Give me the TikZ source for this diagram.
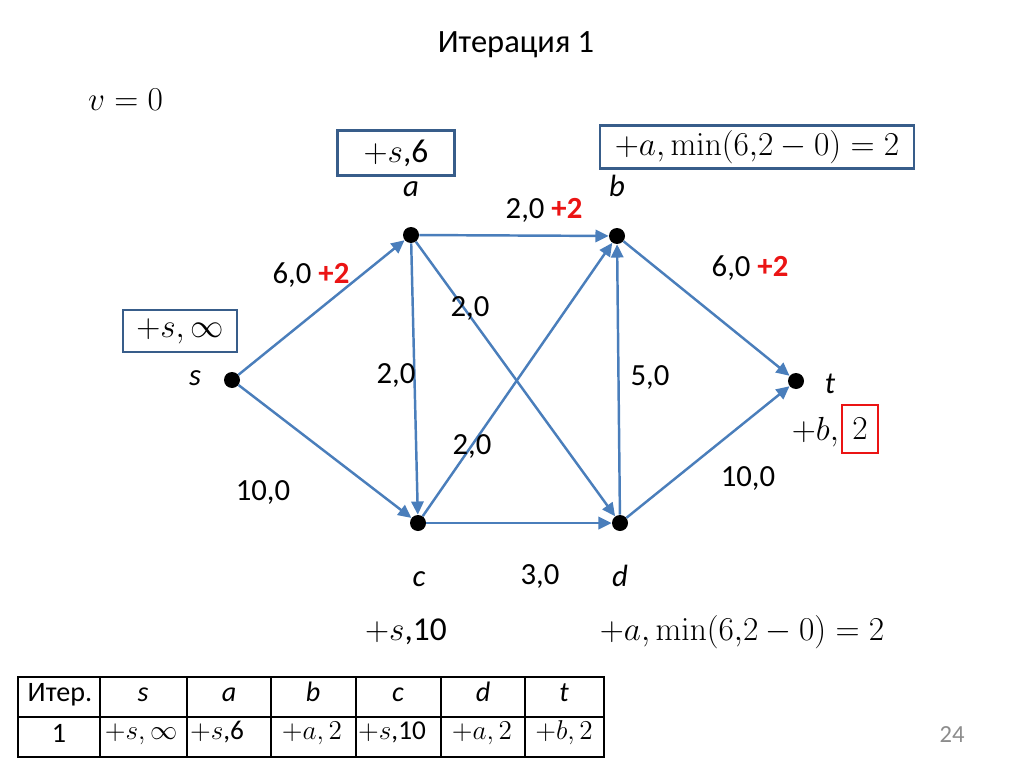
\RequirePackage{fix-cm}
\documentclass[tikz,border=0pt]{standalone}
\usepackage[no-math]{fontspec}
\setmainfont{Carlito}
\usetikzlibrary{arrows.meta}
\definecolor{edgeblue}{RGB}{74,126,187}
\definecolor{boxblue}{RGB}{56,93,138}
\definecolor{myred}{RGB}{235,20,20}
\definecolor{pgnum}{RGB}{140,140,140}
\begin{document}
\begin{tikzpicture}[x=0.02cm,y=-0.02cm,
  vert/.style={circle,fill=black,inner sep=0pt,minimum size=0.32cm},
  edge/.style={draw=edgeblue,line width=1.4pt,-{Triangle[length=7.5pt,width=7pt]}},
  lbl/.style={font=\fontsize{17.5}{20}\selectfont,inner sep=1pt,text height=0.7em,text depth=0.2em,yshift=-2.2pt},
  nm/.style={font=\fontsize{17.5}{20}\selectfont\itshape,inner sep=1pt,text height=0.7em,text depth=0.2em,yshift=-2.2pt},
  mth/.style={font=\fontsize{19}{22}\selectfont,inner sep=1pt},
  mbox/.style={draw=boxblue,line width=1.3pt,font=\fontsize{19}{22}\selectfont,inner sep=0pt},
  tab/.style={font=\fontsize{16}{19}\selectfont,inner sep=1pt,text height=0.7em,text depth=0.2em},
  tabm/.style={font=\fontsize{15.5}{18}\selectfont,inner sep=1pt,text height=0.7em,text depth=0.25em},
  tabit/.style={font=\fontsize{16}{19}\selectfont\itshape,inner sep=1pt,text height=0.7em,text depth=0.2em},
  tabline/.style={line width=0.8pt}]
\useasboundingbox (0,0) rectangle (1024,767);

% title
\node[font=\fontsize{18.5}{22}\selectfont] (title) at (516,45) {Итерация 1};
\node[mth,anchor=west] (v) at (86,100) {$v=0$};

% vertices
\node[vert] (s) at (232,380) {};
\node[vert] (a) at (411,235) {};
\node[vert] (b) at (617,236) {};
\node[vert] (c) at (418,523) {};
\node[vert] (d) at (620,523) {};
\node[vert] (t) at (796,381) {};

% edges
\draw[edge] (s) -- (a);
\draw[edge] (s) -- (c);
\draw[edge] (a) -- (b);
\draw[edge] (a) -- (c);
\draw[edge] (a) -- (d);
\draw[edge] (c) -- (b);
\draw[edge] (c) -- (d);
\draw[edge] (d) -- (b);
\draw[edge] (b) -- (t);
\draw[edge] (d) -- (t);

% vertex names
\node[nm] (ns) at (195,377) {s};
\node[nm] (na) at (411,188) {a};
\node[nm] (nb) at (617,188) {b};
\node[nm] (nc) at (419,578) {c};
\node[nm] (nd) at (620,578) {d};
\node[nm] (nt) at (830,385) {t};

% edge labels
\node[lbl] (lab) at (544,210) {2,0 \textcolor{myred}{\textbf{+2}}};
\node[lbl] (lsa) at (311,275) {6,0 \textcolor{myred}{\textbf{+2}}};
\node[lbl] (lbt) at (750,268) {6,0 \textcolor{myred}{\textbf{+2}}};
\node[lbl] (lad) at (470,308) {2,0};
\node[lbl] (lac) at (396,375) {2,0};
\node[lbl] (ldb) at (650,377) {5,0};
\node[lbl] (lcb) at (472,446) {2,0};
\node[lbl] (lsc) at (263,492) {10,0};
\node[lbl] (ldt) at (748,478) {10,0};
\node[lbl] (lcd) at (540,576) {3,0};

% marks in boxes
\node[mbox,minimum width=2.34cm,minimum height=0.9cm] (ba) at (396,153) {$+s$,6};
\node[mbox,minimum width=6.28cm,minimum height=0.86cm] (bb) at (757,147) {$+a,\min(6{,}2-0)=2$};
\node[mbox,minimum width=2.28cm,minimum height=0.84cm] (bs) at (180,331) {$+s,\infty$};

% other marks
\node[mth] (mc) at (406,632) {$+s$,10};
\node[mth] (md) at (742,632) {$+a,\min(6{,}2-0)=2$};
\node[mth,anchor=east] (mt) at (841,432) {$+b,$};
\node[draw=myred,line width=1.3pt,minimum width=0.72cm,minimum height=0.96cm,inner sep=0pt,font=\fontsize{19}{22}\selectfont] (mt2) at (860,429) {$2$};

% table
\draw[tabline] (18,677) rectangle (604,757);
\draw[tabline] (18,717) -- (604,717);
\foreach \x in {100,187,271,356,441,525} \draw[tabline] (\x,677) -- (\x,757);
\node[tab] (h0) at (60,697) {Итер.};
\node[tabit] (h1) at (143,697) {s};
\node[tabit] (h2) at (229,697) {a};
\node[tabit] (h3) at (313,697) {b};
\node[tabit] (h4) at (398,697) {c};
\node[tabit] (h5) at (483,697) {d};
\node[tabit] (h6) at (564,697) {t};
\node[tab] (r0) at (59,738) {1};
\node[tabm] (r1) at (141,736) {$+s,\infty$};
\node[tabm] (r2) at (217,736) {$+s$,6};
\node[tabm] (r3) at (312,736) {$+a,2$};
\node[tabm] (r4) at (392,736) {$+s$,10};
\node[tabm] (r5) at (482,736) {$+a,2$};
\node[tabm] (r6) at (564,736) {$+b,2$};

\node[font=\fontsize{14}{17}\selectfont,text=pgnum] (pg) at (952,735) {24};
\end{tikzpicture}
\end{document}
